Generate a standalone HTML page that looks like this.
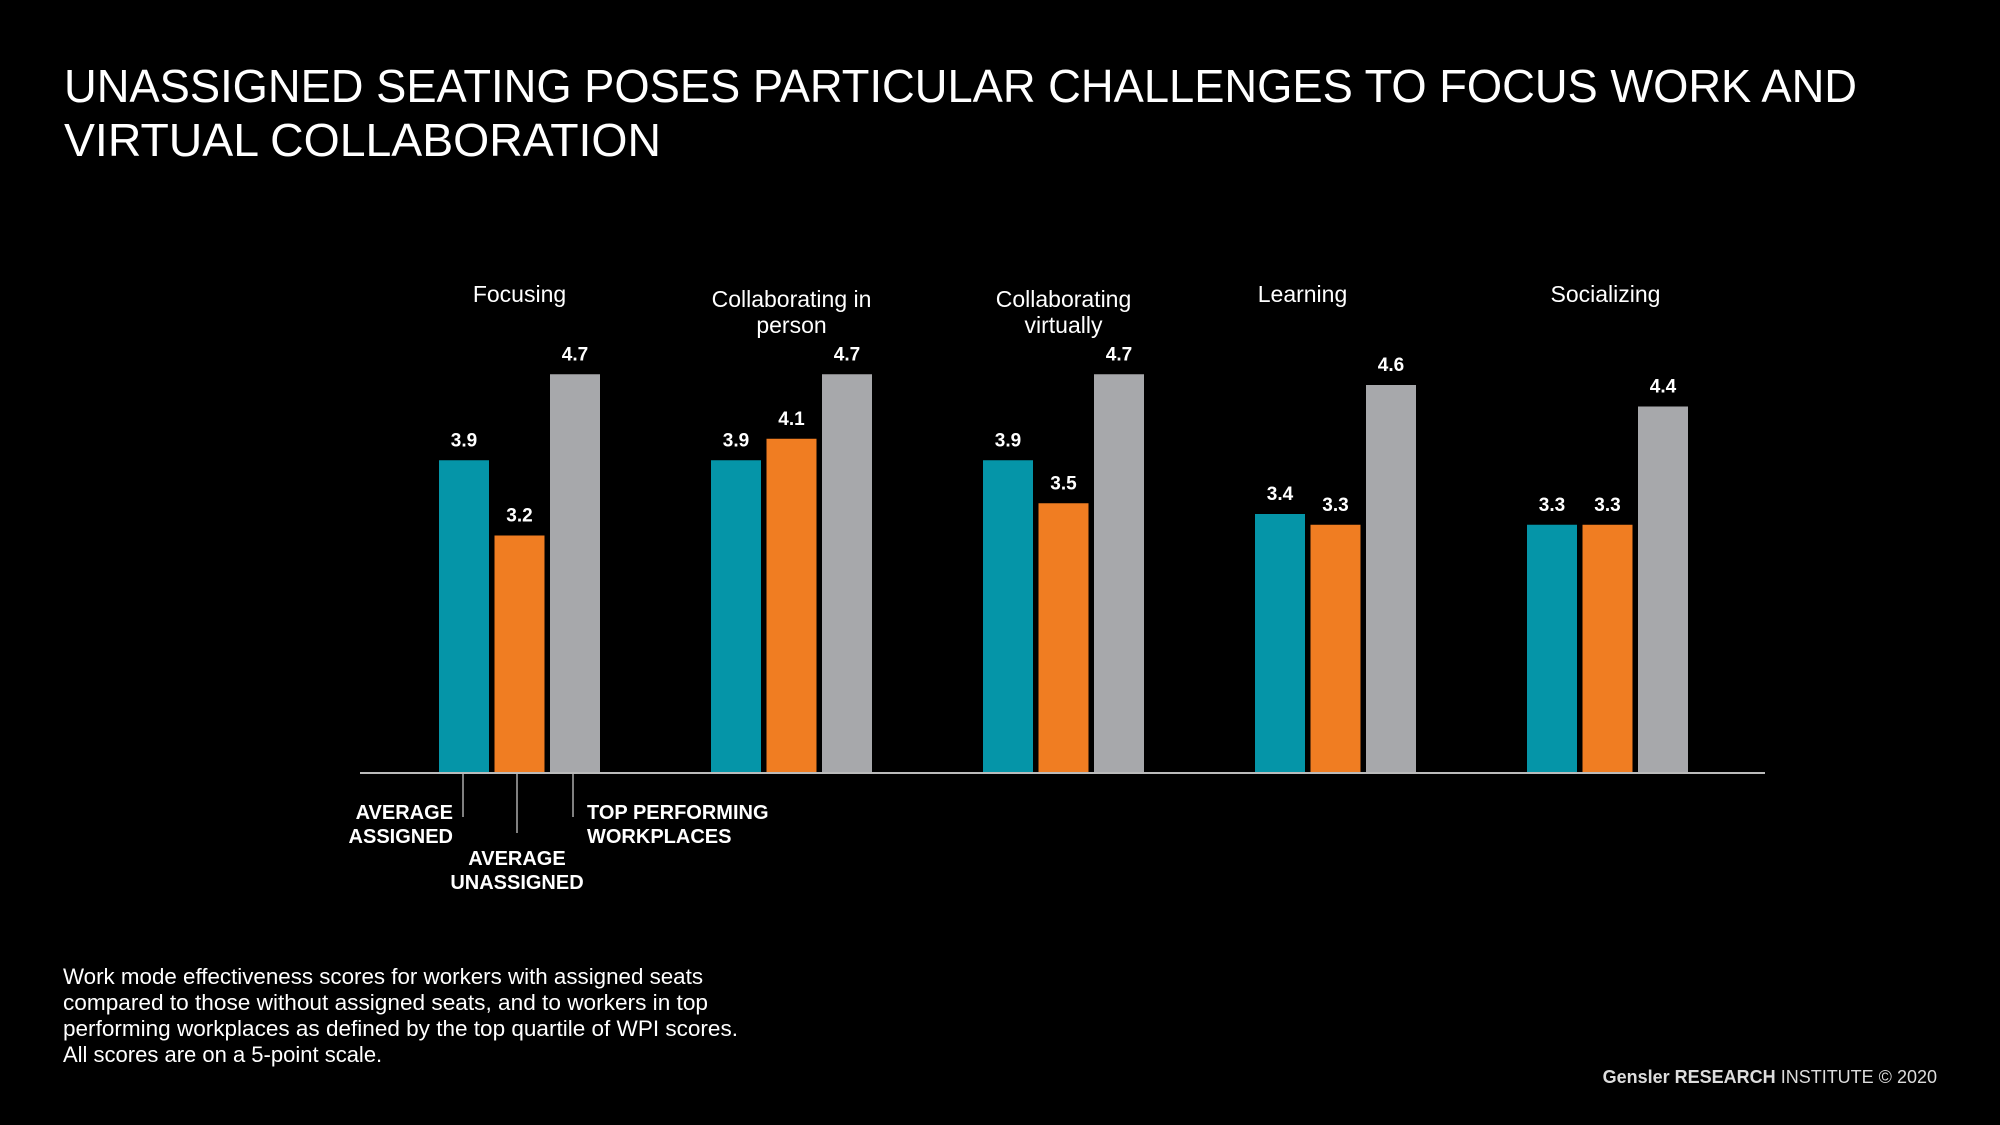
<!DOCTYPE html>
<html><head><meta charset="utf-8">
<style>
html,body{margin:0;padding:0;background:#000;}
svg{display:block;}
text{font-family:"Liberation Sans",sans-serif;fill:#fff;}
</style></head>
<body>
<svg id="chart" width="2000" height="1125" viewBox="0 0 2000 1125">
<rect width="2000" height="1125" fill="#000"/>
<text x="64" y="102" font-size="46" textLength="1793" lengthAdjust="spacingAndGlyphs">UNASSIGNED SEATING POSES PARTICULAR CHALLENGES TO FOCUS WORK AND</text>
<text x="64" y="156" font-size="46" textLength="597" lengthAdjust="spacingAndGlyphs">VIRTUAL COLLABORATION</text>
<g id="bars"></g>
<line x1="360" y1="773" x2="1765" y2="773" stroke="#bbb" stroke-width="2"/>
<g>
<line x1="463" y1="774" x2="463" y2="817" stroke="#aaa" stroke-width="1.5"/>
<line x1="517" y1="774" x2="517" y2="833" stroke="#aaa" stroke-width="1.5"/>
<line x1="573" y1="774" x2="573" y2="817" stroke="#aaa" stroke-width="1.5"/>
<text x="453" y="819" font-size="20" font-weight="bold" text-anchor="end">AVERAGE</text>
<text x="453" y="843" font-size="20" font-weight="bold" text-anchor="end">ASSIGNED</text>
<text x="517" y="865" font-size="20" font-weight="bold" text-anchor="middle">AVERAGE</text>
<text x="517" y="889" font-size="20" font-weight="bold" text-anchor="middle">UNASSIGNED</text>
<text x="587" y="819" font-size="20" font-weight="bold">TOP PERFORMING</text>
<text x="587" y="843" font-size="20" font-weight="bold">WORKPLACES</text>
</g>
<g font-size="22">
<text x="63" y="984" textLength="640" lengthAdjust="spacingAndGlyphs">Work mode effectiveness scores for workers with assigned seats</text>
<text x="63" y="1010" textLength="645" lengthAdjust="spacingAndGlyphs">compared to those without assigned seats, and to workers in top</text>
<text x="63" y="1036" textLength="675" lengthAdjust="spacingAndGlyphs">performing workplaces as defined by the top quartile of WPI scores.</text>
<text x="63" y="1062">All scores are on a 5-point scale.</text>
</g>
<text x="1937" y="1083" font-size="18" text-anchor="end" style="fill:#ddd"><tspan font-weight="bold">Gensler RESEARCH</tspan> INSTITUTE © 2020</text>
</svg>
<script>
const categories = [["Focusing"],["Collaborating in","person"],["Collaborating","virtually"],["Learning"],["Socializing"]];
const assigned = [3.9, 3.9, 3.9, 3.4, 3.3];
const unassigned = [3.2, 4.1, 3.5, 3.3, 3.3];
const topPerforming = [4.7, 4.7, 4.7, 4.6, 4.4];
const seriesColors = ["#0595a8", "#f07d22", "#a7a8ab"];

const NS = "http://www.w3.org/2000/svg";
const baseY = 772, unit = 107.5, minV = 1.0;
function y(v){ return baseY - (v - minV) * unit; }
const groupX0 = 439, groupStep = 272, barW = 50, barStep = 55.5;
function x(g, s){ return groupX0 + g * groupStep + s * barStep; }
const labelShift = [0, 0, 0, -33, -2];
const g = document.getElementById("bars");
const series = [assigned, unassigned, topPerforming];
const names = ["assigned","unassigned","top"];
categories.forEach((cat, i) => {
  const cx = x(i, 1) + barW / 2 + labelShift[i];
  cat.forEach((line, li) => {
    const t = document.createElementNS(NS, "text");
    
    
    t.setAttribute("x", cx);
    t.setAttribute("y", (cat.length > 1 ? 307 : 302) + li * 26);
    t.setAttribute("font-size", "23");
    t.setAttribute("text-anchor", "middle");
    t.textContent = line;
    g.appendChild(t);
  });
  series.forEach((arr, s) => {
    const v = arr[i];
    const r = document.createElementNS(NS, "rect");
    
    
    r.setAttribute("x", x(i, s));
    r.setAttribute("y", y(v));
    r.setAttribute("width", barW);
    r.setAttribute("height", baseY - y(v));
    r.setAttribute("fill", seriesColors[s]);
    g.appendChild(r);
    const t = document.createElementNS(NS, "text");
    
    
    t.setAttribute("x", x(i, s) + barW / 2);
    t.setAttribute("y", y(v) - 14);
    t.setAttribute("font-size", "19");
    t.setAttribute("font-weight", "bold");
    t.setAttribute("text-anchor", "middle");
    t.textContent = v.toFixed(1);
    g.appendChild(t);
  });
});
</script>
</body></html>
